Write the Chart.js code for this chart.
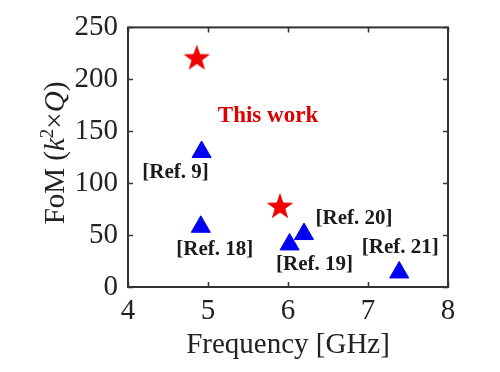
<!DOCTYPE html>
<html>
<head>
<meta charset="utf-8">
<script src="https://cdn.jsdelivr.net/npm/chart.js@4.4.1/dist/chart.umd.min.js"></script>
<style>
  html, body { margin: 0; padding: 0; background: #fff; }
  #wrap { width: 500px; height: 372px; }
</style>
</head>
<body>
<div id="wrap"><canvas id="chart"></canvas></div>
<script>
// data
const workFreq = [4.86, 5.90];
const workFom = [220, 77];
const refNames = ["[Ref. 9]", "[Ref. 18]", "[Ref. 19]", "[Ref. 20]", "[Ref. 21]"];
const refFreq = [4.92, 4.91, 6.02, 6.20, 7.39];
const refFom = [130, 58, 41, 51, 14];
const xTicks = [4, 5, 6, 7, 8];
const yTicks = [0, 50, 100, 150, 200, 250];

const SERIF = "'Liberation Serif', 'Times New Roman', serif";

// filled five point star for "This work"
function makeStar(outer, inner, color) {
  const c = document.createElement("canvas");
  const s = Math.ceil(outer * 2 + 2);
  c.width = s;
  c.height = s;
  const g = c.getContext("2d");
  g.fillStyle = color;
  g.beginPath();
  for (let i = 0; i < 10; i++) {
    const r = i % 2 === 0 ? outer : inner;
    const a = -Math.PI / 2 + (i * Math.PI) / 5;
    const px = s / 2 + Math.cos(a) * r;
    const py = s / 2 + Math.sin(a) * r;
    if (i === 0) g.moveTo(px, py);
    else g.lineTo(px, py);
  }
  g.closePath();
  g.fill();
  return c;
}
const starImg = makeStar(14, 5.6, "#f00000");

// frame, inward ticks, axis titles and text labels
const decorPlugin = {
  id: "decor",
  afterDatasetsDraw(chart, args, opts) {
    const { ctx, chartArea: a, scales } = chart;
    const xs = scales.x, ys = scales.y;
    ctx.save();
    ctx.strokeStyle = "#333";
    ctx.lineWidth = 2;
    ctx.strokeRect(a.left, a.top, a.right - a.left, a.bottom - a.top);

    ctx.lineWidth = 1.5;
    ctx.beginPath();
    xTicks.forEach(v => {
      const px = Math.round(xs.getPixelForValue(v)) + 0.5;
      ctx.moveTo(px, a.bottom); ctx.lineTo(px, a.bottom - 5);
      ctx.moveTo(px, a.top); ctx.lineTo(px, a.top + 5);
    });
    yTicks.forEach(v => {
      const py = Math.round(ys.getPixelForValue(v)) + 0.5;
      ctx.moveTo(a.left, py); ctx.lineTo(a.left + 5, py);
      ctx.moveTo(a.right, py); ctx.lineTo(a.right - 5, py);
    });
    ctx.stroke();

    // x title
    ctx.fillStyle = "#222";
    ctx.font = "29px " + SERIF;
    ctx.textAlign = "center";
    ctx.textBaseline = "alphabetic";
    ctx.fillText("Frequency [GHz]", (a.left + a.right) / 2, 353);

    // y title with italic k and Q
    const parts = [
      { t: "FoM (", f: "29px " + SERIF, dy: 0 },
      { t: "k", f: "italic 29px " + SERIF, dy: 0 },
      { t: "2", f: "19px " + SERIF, dy: -11 },
      { t: "\u00d7", f: "29px " + SERIF, dy: 0 },
      { t: "Q", f: "italic 29px " + SERIF, dy: 0 },
      { t: ")", f: "29px " + SERIF, dy: 0 }
    ];
    let total = 0;
    parts.forEach(p => { ctx.font = p.f; p.w = ctx.measureText(p.t).width; total += p.w; });
    ctx.translate(64, 153);
    ctx.rotate(-Math.PI / 2);
    ctx.textAlign = "left";
    let cx = -total / 2;
    parts.forEach(p => {
      ctx.font = p.f;
      ctx.fillText(p.t, cx, p.dy);
      cx += p.w;
    });
    ctx.setTransform(1, 0, 0, 1, 0, 0);

    // labels next to the markers
    ctx.textAlign = "center";
    ctx.textBaseline = "middle";
    ctx.font = "bold 21px " + SERIF;
    ctx.fillStyle = "#1a1a1a";
    refNames.forEach((name, i) => {
      const off = opts.refOffsets[i];
      ctx.fillText(name, xs.getPixelForValue(refFreq[i]) + off[0], ys.getPixelForValue(refFom[i]) + off[1]);
    });
    ctx.font = "bold 23px " + SERIF;
    ctx.fillStyle = "#dd0000";
    ctx.fillText("This work", xs.getPixelForValue(opts.workLabelAt[0]), ys.getPixelForValue(opts.workLabelAt[1]));
    ctx.restore();
  }
};

new Chart(document.getElementById("chart"), {
  type: "scatter",
  data: {
    datasets: [
      {
        label: "This work",
        data: workFreq.map((f, i) => ({ x: f, y: workFom[i] })),
        pointStyle: starImg,
        pointRadius: 14
      },
      {
        label: "References",
        data: refFreq.map((f, i) => ({ x: f, y: refFom[i] })),
        pointStyle: "triangle",
        pointRadius: 11,
        backgroundColor: "#0000f5",
        borderColor: "#0000f5",
        borderWidth: 1
      }
    ]
  },
  options: {
    responsive: true,
    maintainAspectRatio: false,
    animation: false,
    layout: {
      padding: { left: 0, right: 52, top: 24, bottom: 0 }
    },
    plugins: {
      legend: { display: false },
      tooltip: { enabled: false },
      decor: {
        refOffsets: [[-26, 21], [14, 23], [25, 20], [50, -15], [1, -25]],
        workLabelAt: [5.75, 165]
      }
    },
    scales: {
      x: {
        type: "linear",
        min: 4,
        max: 8,
        afterFit: s => { s.height = 85; },
        afterBuildTicks: s => { s.ticks = xTicks.map(v => ({ value: v })); },
        grid: { display: false, drawTicks: false },
        border: { display: false },
        ticks: { padding: 7, color: "#222", font: { family: SERIF, size: 29 } }
      },
      y: {
        type: "linear",
        min: 0,
        max: 250,
        afterFit: s => { s.width = 128; },
        afterBuildTicks: s => { s.ticks = yTicks.map(v => ({ value: v })); },
        grid: { display: false, drawTicks: false },
        border: { display: false },
        ticks: { padding: 10, color: "#222", font: { family: SERIF, size: 29 } }
      }
    }
  },
  plugins: [decorPlugin]
});
</script>
</body>
</html>
